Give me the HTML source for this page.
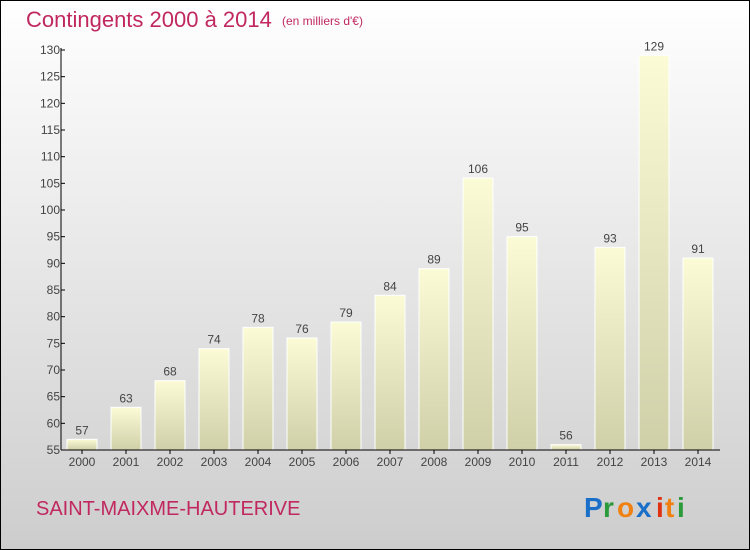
<!DOCTYPE html>
<html><head><meta charset="utf-8"><style>
body{margin:0;width:750px;height:550px;overflow:hidden}
svg{display:block}
text{font-family:"Liberation Sans",sans-serif}
</style></head><body>
<svg width="750" height="550">
<defs>
<linearGradient id="bg" x1="0" y1="0" x2="0" y2="1"><stop offset="0" stop-color="#ffffff"/><stop offset="1" stop-color="#cdcdcd"/></linearGradient>
<linearGradient id="bar" x1="0" y1="0" x2="0" y2="1"><stop offset="0" stop-color="#fbfcd6"/><stop offset="1" stop-color="#cfcfa8"/></linearGradient>
</defs>
<rect x="0.5" y="0.5" width="749" height="549" fill="url(#bg)" stroke="#000"/>
<text x="26" y="27" font-size="22" fill="#c0285f">Contingents 2000 à 2014</text>
<text x="282" y="25" font-size="12" fill="#c0285f">(en milliers d'€)</text>
<g id="plot"></g>
<text x="36" y="515" font-size="20" fill="#c0285f">SAINT-MAIXME-HAUTERIVE</text>
<g font-size="28" font-weight="bold">
<text x="584" y="517" fill="#1a6fc9">P</text><text x="603" y="517" fill="#2a9a3a">r</text><text x="617" y="517" fill="#f08010">o</text><text x="636" y="517" fill="#1a6fc9">x</text><text x="656" y="517" fill="#e03010">i</text><text x="665" y="517" fill="#f08010">t</text><text x="677" y="517" fill="#2a9a3a">i</text>
</g>
</svg>
<script>
const years=["2000","2001","2002","2003","2004","2005","2006","2007","2008","2009","2010","2011","2012","2013","2014"];
const values=[57,63,68,74,78,76,79,84,89,106,95,56,93,129,91];
const yTicks=[55,60,65,70,75,80,85,90,95,100,105,110,115,120,125,130];
const NS="http://www.w3.org/2000/svg";
const g=document.getElementById('plot');
const y=v=>450-(v-55)*400/75;
const x=i=>82+i*44;
function mk(t,a){const e=document.createElementNS(NS,t);for(const k in a)e.setAttribute(k,a[k]);g.appendChild(e);return e;}
years.forEach((yr,i)=>{
 const v=values[i];
 const r=mk('rect',{x:x(i)-15,y:y(v),width:30,height:450-y(v),fill:'url(#bar)',stroke:'#fff','stroke-width':1});
 
 
 const t=mk('text',{x:x(i),y:y(v)-5,'text-anchor':'middle','font-size':12,fill:'#444'});t.textContent=v;
 
 
 const xl=mk('text',{x:x(i),y:466,'text-anchor':'middle','font-size':12,fill:'#444'});xl.textContent=yr;
 
 
 mk('line',{x1:x(i),x2:x(i),y1:450,y2:454,stroke:'#000'});
});
yTicks.forEach(v=>{
 mk('line',{x1:61,x2:65,y1:y(v),y2:y(v),stroke:'#000'});
 const t=mk('text',{x:60,y:y(v)+4,'text-anchor':'end','font-size':12,fill:'#444'});t.textContent=v;
 
 
});
const ya=mk('line',{x1:61,x2:61,y1:48,y2:450,stroke:'#000'});


const xa=mk('line',{x1:61,x2:720,y1:450,y2:450,stroke:'#000'});


</script>
</body></html>
